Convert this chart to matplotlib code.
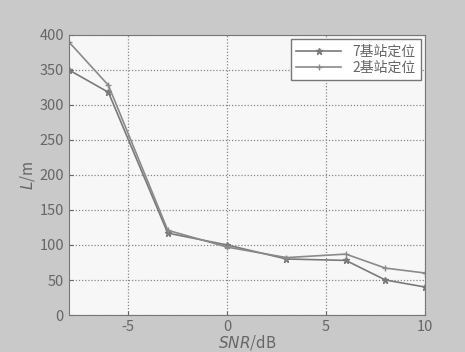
import matplotlib.pyplot as plt
import numpy as np

plt.rcParams['font.family'] = ['Noto Sans CJK SC', 'DejaVu Sans']
plt.rcParams['axes.unicode_minus'] = False

snr = [-8, -6, -3, 0, 3, 6, 8, 10]
err_7 = [350, 318, 117, 100, 80, 78, 50, 40]
err_2 = [390, 328, 121, 97, 82, 87, 67, 60]

xticks = [-5, 0, 5, 10]
yticks = list(range(0, 401, 50))

fig = plt.figure(figsize=(4.65, 3.52), dpi=100)
fig.patch.set_facecolor('#c9c9c9')
ax = fig.add_axes([0.148, 0.105, 0.766, 0.796])
ax.set_facecolor('#f7f7f7')

ax.plot(snr, err_7, '-', marker='*', color='#7a7a7a', lw=1.2, ms=5, label='7基站定位')
ax.plot(snr, err_2, '-', marker='+', color='#8a8a8a', lw=1.2, ms=5, label='2基站定位')

ax.set_xlim(-8, 10)
ax.set_ylim(0, 400)
ax.set_xticks(xticks)
ax.set_yticks(yticks)
ax.grid(True, linestyle=(0, (1, 1.5)), color='#888888', lw=0.9)
ax.tick_params(colors='#666666', labelsize=10.5, direction='in', length=3)
for s in ax.spines.values():
    s.set_color('#777777')

ax.set_xlabel('$SNR$/dB', color='#666666', fontsize=11, labelpad=-1)
ax.set_ylabel('$L$/m', color='#666666', fontsize=11, labelpad=2)

leg = ax.legend(loc='upper right', fontsize=10, frameon=True, fancybox=False,
                edgecolor='#777777', handlelength=3.2, borderpad=0.4,
                labelspacing=0.15, borderaxespad=0.3, framealpha=1)
for t in leg.get_texts():
    t.set_color('#666666')

fig.savefig('out.png', dpi=100, facecolor=fig.get_facecolor())
